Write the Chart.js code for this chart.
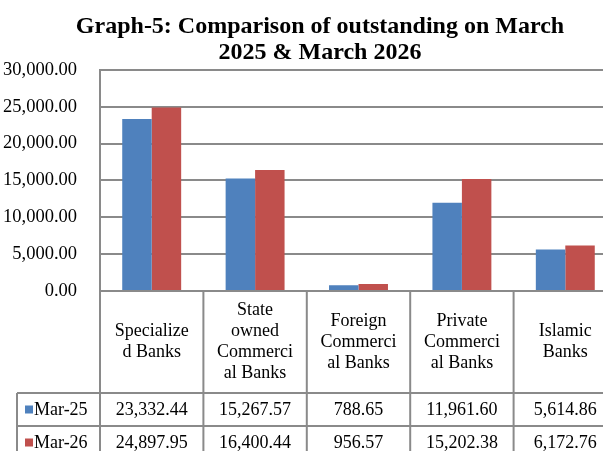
<!DOCTYPE html>
<html>
<head>
<meta charset="utf-8">
<script src="https://cdn.jsdelivr.net/npm/chart.js@4.4.1/dist/chart.umd.min.js"></script>
<style>
  html, body { margin: 0; padding: 0; background: #fff; overflow: hidden; }
  #wrap { width: 654px; height: 470px; }
</style>
</head>
<body>
<div id="wrap"><canvas id="myChart" width="654" height="470"></canvas></div>
<script>
const categories = [
  ['Specialize', 'd Banks'],
  ['State', 'owned', 'Commerci', 'al Banks'],
  ['Foreign', 'Commerci', 'al Banks'],
  ['Private', 'Commerci', 'al Banks'],
  ['Islamic', 'Banks']
];
const seriesNames = ['Mar-25', 'Mar-26'];
const mar25 = [23332.44, 15267.57, 788.65, 11961.60, 5614.86];
const mar26 = [24897.95, 16400.44, 956.57, 15202.38, 6172.76];
const yTicks = [0, 5000, 10000, 15000, 20000, 25000, 30000];

const FONT = '"Liberation Serif", "Times New Roman", serif';
const GRID = '#8a8a8a';
const colors = ['#4F81BD', '#C0504D'];

function fmt(v) {
  return v.toLocaleString('en-US', { minimumFractionDigits: 2, maximumFractionDigits: 2 });
}

// the title is centred on the whole chart box, not just the plot
const titleShiftPlugin = {
  id: 'titleShift',
  afterLayout(chart) {
    if (chart.titleBlock) {
      chart.titleBlock.left += 20;
    }
  }
};

// data table under the plot, lined up with the x scale
const dataTablePlugin = {
  id: 'dataTable',
  afterDraw(chart) {
    const c = chart.ctx;
    const area = chart.chartArea;
    const x = chart.scales.x;
    const n = categories.length;
    const colW = (area.right - area.left) / n;
    const headTop = area.bottom;
    const headBottom = headTop + 102;
    const rowH = 33;
    const tableLeft = 17;
    const rows = [mar25, mar26];

    c.save();
    c.strokeStyle = GRID;
    c.lineWidth = 2;
    c.beginPath();
    const bottom = headBottom + rowH * rows.length;
    for (let i = 0; i <= n; i++) {
      const lx = area.left + i * colW;
      c.moveTo(lx, headTop);
      c.lineTo(lx, bottom);
    }
    c.moveTo(tableLeft, headBottom);
    c.lineTo(tableLeft, bottom);
    for (let r = 0; r <= rows.length; r++) {
      const ly = headBottom + r * rowH;
      c.moveTo(tableLeft, ly);
      c.lineTo(area.right, ly);
    }
    c.stroke();

    c.fillStyle = '#000';
    c.font = '18px ' + FONT;
    c.textAlign = 'center';
    c.textBaseline = 'middle';
    const lineH = 21;
    categories.forEach((lines, i) => {
      const cx = x.getPixelForValue(i);
      const cy = (headTop + headBottom) / 2;
      const start = cy - (lines.length - 1) * lineH / 2;
      lines.forEach((t, k) => c.fillText(t, cx, start + k * lineH));
    });

    rows.forEach((vals, r) => {
      const cy = headBottom + r * rowH + rowH / 2 + 1;
      c.textAlign = 'center';
      c.fillStyle = '#000';
      vals.forEach((v, i) => c.fillText(fmt(v), x.getPixelForValue(i), cy));
      c.fillStyle = colors[r];
      c.fillRect(25, cy - 5, 8, 8);
      c.fillStyle = '#000';
      c.textAlign = 'left';
      c.fillText(seriesNames[r], 34, cy);
    });
    c.restore();
  }
};

const ctx = document.getElementById('myChart').getContext('2d');
const myChart = new Chart(ctx, {
  type: 'bar',
  data: {
    labels: categories,
    datasets: [
      { label: seriesNames[0], data: mar25, backgroundColor: colors[0] },
      { label: seriesNames[1], data: mar26, backgroundColor: colors[1] }
    ]
  },
  options: {
    responsive: false,
    animation: false,
    devicePixelRatio: 1,
    layout: { padding: { left: 3, right: 37, top: 0, bottom: 179 } },
    datasets: { bar: { categoryPercentage: 0.57, barPercentage: 1.0, borderWidth: 0 } },
    plugins: {
      legend: { display: false },
      tooltip: { enabled: false },
      title: {
        display: true,
        text: ['Graph-5: Comparison of outstanding on March', '2025 & March 2026'],
        color: '#000',
        font: { family: FONT, size: 24, weight: 'bold', lineHeight: 1.08 },
        padding: { top: 14, bottom: 4 }
      }
    },
    scales: {
      x: {
        display: false,
        offset: true
      },
      y: {
        min: 0,
        max: 30000,
        afterBuildTicks(axis) { axis.ticks = yTicks.map(v => ({ value: v })); },
        afterFit(axis) { axis.width = 97; },
        border: { display: true, color: GRID, width: 2 },
        grid: { color: GRID, lineWidth: 2, drawTicks: false },
        ticks: {
          color: '#000',
          padding: 23,
          font: { family: FONT, size: 18.5 },
          callback: v => fmt(v)
        }
      }
    }
  },
  plugins: [titleShiftPlugin, dataTablePlugin]
});
</script>
</body>
</html>
